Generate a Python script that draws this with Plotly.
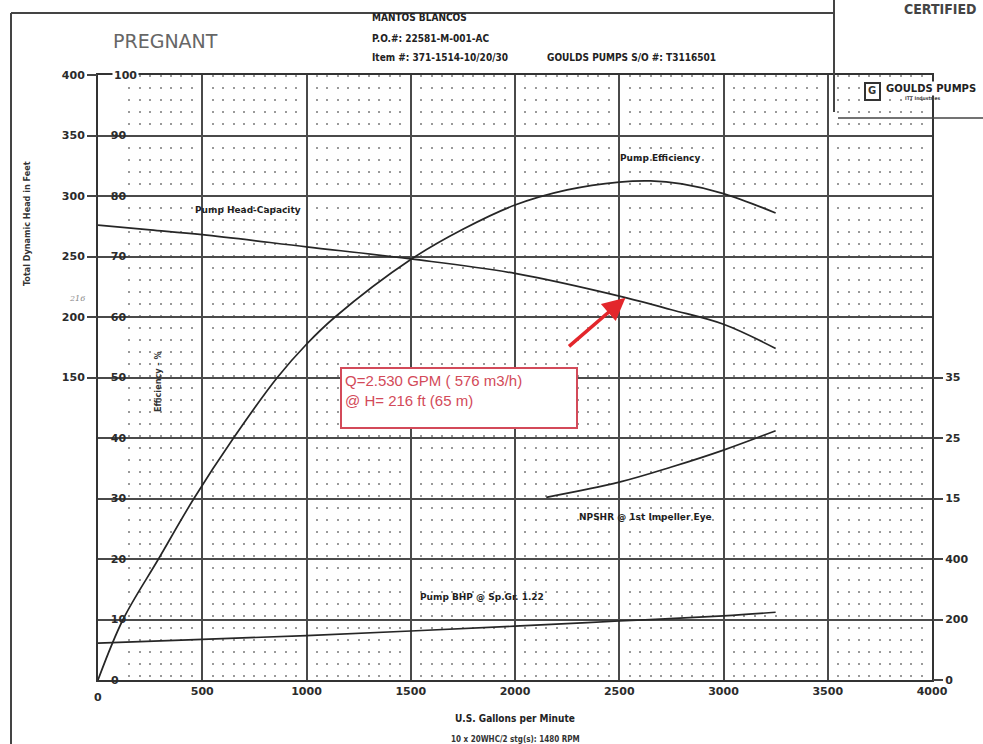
import plotly.graph_objects as go

# ---- Pump performance data (flow in U.S. gallons per minute) ----
eff_flow = [0, 120, 290, 460, 650, 860, 1000, 1137, 1500, 1750, 2000, 2250, 2500, 2650, 2800, 3000, 3250]
eff_pct = [0, 10, 20, 30, 40, 50, 55.5, 60, 69.5, 74.5, 78.5, 81.0, 82.3, 82.5, 82.0, 80.4, 77.2]

head_flow = [0, 250, 500, 1000, 1500, 2000, 2530, 2750, 3000, 3250]
head_ft = [276, 272, 268, 258, 248, 236, 216, 206, 194, 174]

npsh_flow = [2150, 2500, 2750, 3000, 3250]
npsh_ft = [15.2, 17.7, 20.2, 23.0, 26.2]

bhp_flow = [0, 500, 1000, 1500, 2000, 2500, 3000, 3250]
bhp_hp = [122, 134, 147, 162, 178, 195, 212, 224]

# Duty point
duty_gpm = 2530
duty_head_ft = 216
duty_m3h = 576
duty_head_m = 65

# Axis ticks
flow_ticks = [0, 500, 1000, 1500, 2000, 2500, 3000, 3500, 4000]
eff_ticks = [0, 10, 20, 30, 40, 50, 60, 70, 80, 90, 100]
head_ticks = [150, 200, 250, 300, 350, 400]
npsh_ticks = [15, 25, 35]
bhp_ticks = [0, 200, 400]

W, H = 983, 744
L, R, T, B = 98, 932, 75, 680  # plot area in pixels


def px(x):
    return (x - L) / (R - L)


def py(y):
    return (B - y) / (B - T)


INK = "#262626"
TICKFONT = dict(family="DejaVu Sans", size=11, color="#2b2b2b", weight="bold")
LABFONT = dict(family="DejaVu Sans", size=9, color="#1e1e1e", weight="bold")
RED = "#d34a59"

fig = go.Figure()
line_style = dict(color=INK, width=1.7, shape="spline", smoothing=1.0)
fig.add_trace(go.Scatter(x=eff_flow, y=eff_pct, mode="lines", line=line_style,
                         xaxis="x", yaxis="y", hoverinfo="skip"))
fig.add_trace(go.Scatter(x=head_flow, y=head_ft, mode="lines", line=line_style,
                         xaxis="x", yaxis="y2", hoverinfo="skip"))
fig.add_trace(go.Scatter(x=npsh_flow, y=npsh_ft, mode="lines", line=line_style,
                         xaxis="x", yaxis="y3", hoverinfo="skip"))
fig.add_trace(go.Scatter(x=bhp_flow, y=bhp_hp, mode="lines", line=line_style,
                         xaxis="x", yaxis="y4", hoverinfo="skip"))

common_y = dict(zeroline=False, automargin=False, fixedrange=True)

fig.update_layout(
    width=W, height=H,
    margin=dict(l=L, r=W - R, t=T, b=H - B, autoexpand=False),
    paper_bgcolor="white", plot_bgcolor="white", showlegend=False,
    xaxis=dict(
        range=[0, 4000], tickvals=flow_ticks, ticktext=[str(v) for v in flow_ticks],
        showgrid=True, gridcolor="#4a4a4a", gridwidth=1.5,
        minor=dict(dtick=50, tick0=0, showgrid=True, gridcolor="#9a9a9a",
                   griddash="2px,10px", gridwidth=1.6),
        showline=True, linecolor="#333333", linewidth=2, mirror=True,
        ticks="", tickfont=TICKFONT, zeroline=False, automargin=False, fixedrange=True,
    ),
    yaxis=dict(
        range=[0, 100], tickvals=eff_ticks, ticktext=[str(v) for v in eff_ticks],
        ticklabelposition="inside", ticklabelstandoff=12, tickfont=TICKFONT, ticks="",
        showgrid=True, gridcolor="#4a4a4a", gridwidth=1.6,
        showline=True, linecolor="#333333", linewidth=2, mirror=True, **common_y,
    ),
    yaxis2=dict(
        overlaying="y", side="left", anchor="x", range=[-100, 400],
        tickvals=head_ticks, ticktext=[str(v) for v in head_ticks],
        ticks="outside", ticklen=10, tickwidth=1.5, tickcolor="#444",
        tickfont=TICKFONT, showgrid=False, showline=False, **common_y,
    ),
    yaxis3=dict(
        overlaying="y", side="right", anchor="x", range=[-15, 85],
        tickvals=npsh_ticks, ticktext=[str(v) for v in npsh_ticks],
        ticks="outside", ticklen=10, tickwidth=1.5, tickcolor="#444",
        tickfont=TICKFONT, showgrid=False, showline=False, **common_y,
    ),
    yaxis4=dict(
        overlaying="y", side="right", anchor="x", range=[0, 2000],
        tickvals=bhp_ticks, ticktext=[str(v) for v in bhp_ticks],
        ticks="outside", ticklen=10, tickwidth=1.5, tickcolor="#444",
        tickfont=TICKFONT, showgrid=False, showline=False, **common_y,
    ),
)

ann = []


def text(x, y, s, font, angle=0, xanchor="center", bg=None):
    d = dict(x=px(x), y=py(y), xref="paper", yref="paper", text=s, showarrow=False,
             font=font, textangle=angle, xanchor=xanchor, yanchor="middle")
    if bg:
        d["bgcolor"] = bg
    ann.append(d)


# corner labels that the axes drop at the plot edges
ann.append(dict(x=flow_ticks[0], y=eff_ticks[0], xref="x", yref="y", text=str(flow_ticks[0]),
                showarrow=False, font=TICKFONT, yshift=-17, xanchor="center", yanchor="middle"))
ann.append(dict(x=flow_ticks[0], y=eff_ticks[0], xref="x", yref="y", text=str(eff_ticks[0]),
                showarrow=False, font=TICKFONT, xshift=17, xanchor="center", yanchor="middle"))
ann.append(dict(x=flow_ticks[0], y=eff_ticks[-1], xref="x", yref="y", text=str(eff_ticks[-1]),
                showarrow=False, font=TICKFONT, xshift=14, xanchor="left", yanchor="middle",
                bgcolor="white"))

# curve labels
text(660, 158, "Pump Efficiency", LABFONT)
text(248, 210, "Pump Head-Capacity", LABFONT)
text(645, 517, "NPSHR @ 1st Impeller Eye", LABFONT)
text(482, 597, "Pump BHP @ Sp.Gr. 1.22", LABFONT)

# axis titles
TITLEF = dict(family="DejaVu Sans Condensed", size=9, color="#333", weight="bold")
text(27, 224, "Total Dynamic Head in Feet", TITLEF, angle=-90)
text(158, 382, "Efficiency - %", TITLEF, angle=-90)
text(515, 718, "U.S. Gallons per Minute", dict(family="DejaVu Sans Condensed", size=10, color="#222", weight="bold"))
text(515, 739, "10 x 20WHC/2 stg(s): 1480 RPM", dict(family="DejaVu Sans Condensed", size=8, color="#333", weight="bold"))
text(77, 298, "216", dict(family="DejaVu Serif", size=8, color="#888", style="italic"))

# header block
HDR = dict(family="DejaVu Sans Condensed", size=10, color="#222", weight="bold")
text(370, 18, "MANTOS BLANCOS", HDR, xanchor="left")
text(370, 38, "P.O.#: 22581-M-001-AC", HDR, xanchor="left")
text(370, 58, "Item #: 371-1514-10/20/30", HDR, xanchor="left")
text(545, 58, "GOULDS PUMPS S/O #: T3116501", HDR, xanchor="left")
text(165, 41, "PREGNANT", dict(family="DejaVu Sans", size=19, color="#666"))
text(940, 9, "CERTIFIED", dict(family="DejaVu Sans Condensed", size=14, color="#444", weight="bold"))
text(884, 89, "GOULDS PUMPS", dict(family="DejaVu Sans", size=10, color="#222", weight="bold"), xanchor="left", bg="white")
text(903, 98, "ITT Industries", dict(family="DejaVu Sans Condensed", size=5, color="#444", weight="bold"), xanchor="left")
text(872, 91, "G", dict(family="DejaVu Sans", size=10, color="#333", weight="bold"))

# duty point callout
ann.append(dict(
    x=px(340), y=py(367), xref="paper", yref="paper", xanchor="left", yanchor="top",
    text=(f"Q={duty_gpm:,}".replace(",", ".") + f" GPM ( {duty_m3h} m3/h)<br>"
          f"@ H= {duty_head_ft} ft ({duty_head_m} m)"),
    showarrow=False, align="left", valign="top", width=228, height=52,
    bordercolor=RED, borderwidth=2, borderpad=3, bgcolor="white",
    font=dict(family="Liberation Sans", size=15, color=RED),
))
ann.append(dict(
    x=duty_gpm, y=duty_head_ft, xref="x", yref="y2", text="", showarrow=True,
    ax=-58, ay=50, arrowhead=2, arrowsize=1.3, arrowwidth=3.5, arrowcolor="#e3262b",
    standoff=0,
))
fig.update_layout(annotations=ann)

# document frame lines and logo box
shapes = []


def seg(x0, y0, x1, y1, color="#444", width=2):
    shapes.append(dict(type="line", xref="paper", yref="paper",
                       x0=px(x0), y0=py(y0), x1=px(x1), y1=py(y1),
                       line=dict(color=color, width=width)))


seg(11, 13, 11, 744)
seg(11, 13, 834, 13)
seg(834, 0, 834, 112)
seg(838, 118, 983, 118, width=1.5)
shapes.append(dict(type="rect", xref="paper", yref="paper",
                   x0=px(865), y0=py(100), x1=px(880), y1=py(83),
                   line=dict(color="#333", width=2), fillcolor="white"))
fig.update_layout(shapes=shapes)

fig.write_html("out.html")
